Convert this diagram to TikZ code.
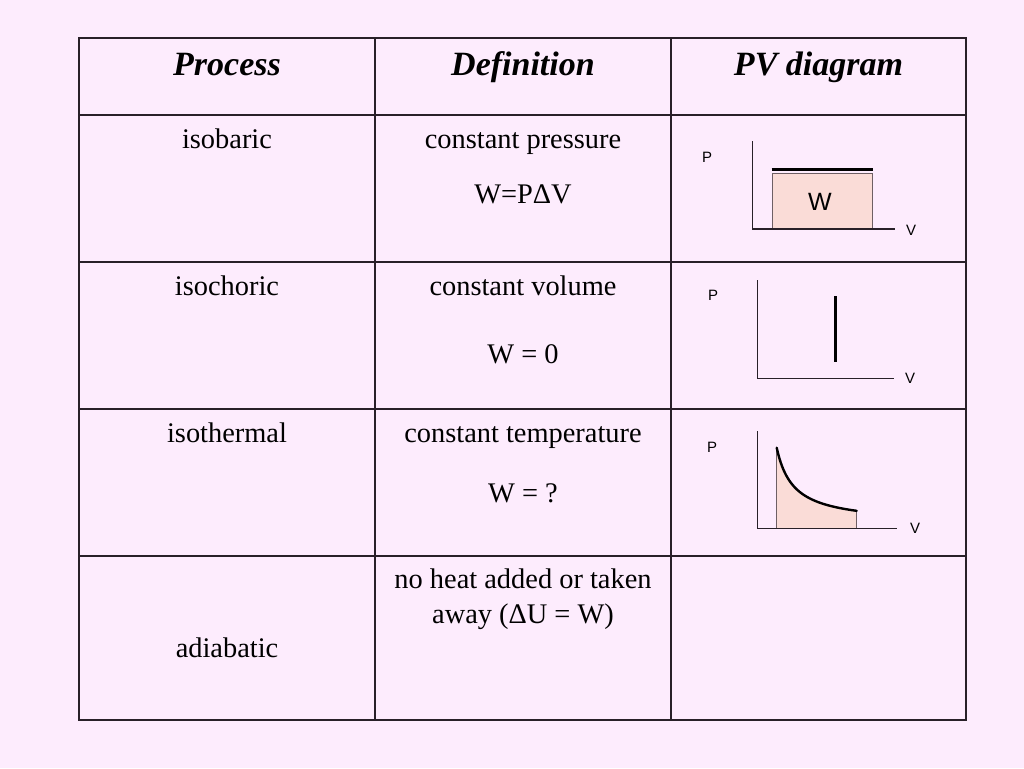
\documentclass[tikz,border=0pt]{standalone}
\usepackage{fontspec}
\setmainfont{Liberation Serif}
\newfontfamily\arialf{Liberation Sans}
\definecolor{bg}{RGB}{253,236,253}
\definecolor{wfill}{RGB}{250,220,215}
\definecolor{rulec}{RGB}{40,32,40}
\definecolor{boxedge}{RGB}{110,95,100}
\begin{document}
\begin{tikzpicture}[x=1pt,y=-1pt,
  cell/.style={anchor=base,inner sep=0pt,font=\fontsize{28.4}{34}\selectfont},
  head/.style={anchor=base,inner sep=0pt,font=\fontsize{34}{40}\selectfont\bfseries\itshape},
  axlbl/.style={anchor=base,inner sep=0pt,font=\arialf\fontsize{15}{17}\selectfont},
  wlbl/.style={anchor=base,inner sep=0pt,font=\arialf\fontsize{25}{28}\selectfont},
  gridline/.style={draw=rulec,line width=2pt},
  axisline/.style={draw=rulec,line width=1.3pt},
  heavyline/.style={draw=black,line width=3.6pt},
]
% background / bounding box
\path[fill=bg] (0,0) rectangle (1024,768);
\useasboundingbox (0,0) rectangle (1024,768);

% table grid
\draw[gridline] (79,38) rectangle (966,720);
\foreach \yy in {115,262,409,556} \draw[gridline] (79,\yy) -- (966,\yy);
\foreach \xx in {375,671} \draw[gridline] (\xx,38) -- (\xx,720);

% headers
\node[head] (h1) at (227,75) {Process};
\node[head] (h2) at (523,75) {Definition};
\node[head] (h3) at (818.5,75) {PV diagram};

% column 1
\node[cell] (p1) at (227,148) {isobaric};
\node[cell] (p2) at (227,295) {isochoric};
\node[cell] (p3) at (227,442) {isothermal};
\node[cell] (p4) at (227,657) {adiabatic};

% column 2
\node[cell] (d1a) at (523,148) {constant pressure};
\node[cell] (d1b) at (523,203) {W=PΔV};
\node[cell] (d2a) at (523,295) {constant volume};
\node[cell] (d2b) at (523,363) {W = 0};
\node[cell] (d3a) at (523,442) {constant temperature};
\node[cell] (d3b) at (523,502) {W = ?};
\node[cell] (d4a) at (523,588) {no heat added or taken};
\node[cell] (d4b) at (523,623) {away (ΔU = W)};

% diagram 1: isobaric
\filldraw[fill=wfill,draw=boxedge,line width=1pt] (772.7,173.3) rectangle (872,229);
\draw[heavyline] (771.7,169.3) -- (872.7,169.3);
\draw[axisline] (752.3,141) -- (752.3,229) -- (895,229);
\node[axlbl] (P1) at (707,162) {P};
\node[axlbl] (V1) at (911,235) {V};
\node[wlbl] (W1) at (820,210) {W};

% diagram 2: isochoric
\draw[axisline] (757.7,280) -- (757.7,378.7) -- (894,378.7);
\draw[draw=black,line width=3.2pt] (835.7,296) -- (835.7,362.3);
\node[axlbl] (P2) at (713,300) {P};
\node[axlbl] (V2) at (910,383) {V};

% diagram 3: isothermal
\fill[wfill] (776.7,528.3) -- (776.7,447.7)
  -- plot[domain=776.7:856.7,samples=60,smooth] (\x,{524-1274/(\x-760)})
  -- (856.7,528.3) -- cycle;
\draw[draw=boxedge,line width=1pt] (776.7,528.3) -- (776.7,450);
\draw[draw=boxedge,line width=1pt] (856.7,528.3) -- (856.7,511);
\draw[draw=black,line width=2.4pt,line cap=round]
  plot[domain=776.7:856.7,samples=60,smooth] (\x,{524-1274/(\x-760)});
\draw[axisline] (757.3,431) -- (757.3,528.3) -- (897,528.3);
\node[axlbl] (P3) at (712,452) {P};
\node[axlbl] (V3) at (915,533) {V};
\end{tikzpicture}
\end{document}
